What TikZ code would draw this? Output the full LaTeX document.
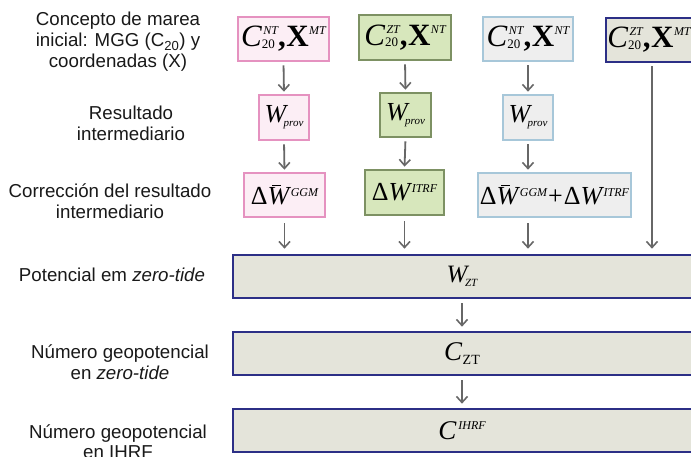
\documentclass[tikz,border=0pt]{standalone}
\usepackage{fontspec}
\setmainfont{Liberation Sans}
\newfontfamily\tnr{Liberation Serif}
\newfontfamily\tnrB{Liberation Serif Bold}
\usetikzlibrary{arrows.meta}
\definecolor{pinkB}{HTML}{E592C0}
\definecolor{pinkF}{HTML}{FCEEF5}
\definecolor{greenB}{HTML}{7D9163}
\definecolor{greenF}{HTML}{D7E7BC}
\definecolor{lblueB}{HTML}{A7C7D9}
\definecolor{lblueF}{HTML}{EEEEEE}
\definecolor{dblueB}{HTML}{2C2F86}
\definecolor{dblueF}{HTML}{E4E4DA}
\definecolor{arrowC}{HTML}{676767}
\newcommand{\fs}[1]{\fontsize{#1}{#1}\selectfont}
\newsavebox\bsup
\newsavebox\bsub
% #1 base, #2 sup, #3 sub, #4 raise sup, #5 lower sub, #6 sup kern
\newcommand{\SupSub}[6]{{#1}\sbox\bsup{\hspace*{#6}#2}\sbox\bsub{#3}%
  \rlap{\raisebox{#4}{\usebox\bsup}}\raisebox{-#5}{\usebox\bsub}%
  \ifdim\wd\bsup>\wd\bsub\hspace*{\dimexpr\wd\bsup-\wd\bsub\relax}\fi}
\newcommand{\toptxt}[2]{\tnr\fs{31}\SupSub{\itshape C}{\fs{12}\itshape #1}{\fs{13}\upshape 20}{12pt}{1.5pt}{1.5pt}%
  {\tnrB\upshape\mdseries ,}\hspace{0.5pt}{\tnrB\upshape\mdseries X}\hspace{0.5pt}\raisebox{12pt}{\fs{12}\itshape #2}}
\newcommand{\wprov}{\tnr\fs{26}\itshape W\hspace{-2.5pt}\raisebox{-4pt}{\fs{11}prov}}
\newcommand{\dW}{\upshape Δ\makebox[0pt][l]{\hspace{4.5pt}\rule[19pt]{9pt}{0.9pt}}\itshape W}
\newcommand{\dWggm}{\dW\hspace{1.5pt}\raisebox{8pt}{\fs{12}\itshape GGM}}
\newcommand{\dWitrf}{\upshape Δ\itshape W\hspace{1.5pt}\raisebox{8pt}{\fs{12}\itshape ITRF}}
\tikzset{
  box/.style={line width=2.7pt, inner sep=0pt, text=black},
  pinkbox/.style={box, draw=pinkB, fill=pinkF},
  greenbox/.style={box, draw=greenB, fill=greenF},
  lbluebox/.style={box, draw=lblueB, fill=lblueF},
  dbluebox/.style={box, draw=dblueB, fill=dblueF},
  bigbox/.style={dbluebox, minimum width=474pt, minimum height=43pt},
  lbl/.style={align=center, font=\fontsize{18.7}{21}\selectfont, text=black!90, inner sep=0pt},
  arr/.style={draw=arrowC, line width=1.8pt, -{Straight Barb[length=6pt,width=11pt,line width=1.6pt]}},
  fB/.style={font=\tnr\fontsize{26}{28}\selectfont},
}
\begin{document}
\begin{tikzpicture}[x=1pt,y=-1pt]
\clip (0,0) rectangle (691,457);
\fill[white] (0,0) rectangle (691,457);
% left labels
\node[lbl] (l1) at (118,42) {Concepto de marea\\inicial: MGG (C\textsubscript{20}) y\\coordenadas (X)};
\node[lbl] (l2) at (131,123) {Resultado\\intermediario};
\node[lbl] (l3) at (110,201) {Corrección del resultado\\intermediario};
\node[lbl] (l4) at (112,275) {Potencial em \textit{zero-tide}};
\node[lbl] (l5) at (120,362) {Número geopotencial\\en \textit{zero-tide}};
\node[lbl, font=\fontsize{18.7}{20}\selectfont] (l6) at (118,442) {Número geopotencial\\en IHRF};
% row 1
\node[pinkbox, minimum width=91pt, minimum height=44pt] (r1a) at (283.5,39) {\toptxt{NT}{MT}};
\node[greenbox, minimum width=92pt, minimum height=45pt] (r1b) at (405,37.5) {\toptxt{ZT}{NT}};
\node[lbluebox, minimum width=90pt, minimum height=44pt] (r1c) at (528,39) {\toptxt{NT}{NT}};
\node[dbluebox, minimum width=98pt, minimum height=44pt] (r1d) at (655,40) {\hspace*{-12pt}\toptxt{ZT}{MT}};
% row 2
\node[pinkbox, minimum width=50pt, minimum height=45pt] (r2a) at (284,117.5) {\wprov};
\node[greenbox, minimum width=51pt, minimum height=44pt] (r2b) at (405.5,115) {\wprov};
\node[lbluebox, minimum width=50pt, minimum height=45pt] (r2c) at (528,117.5) {\wprov};
% row 3
\node[pinkbox, fB, minimum width=81pt, minimum height=44pt] (r3a) at (284.5,195) {\dWggm};
\node[greenbox, fB, minimum width=79pt, minimum height=45pt] (r3b) at (404.5,192.5) {\dWitrf};
\node[lbluebox, fB, minimum width=153pt, minimum height=44pt] (r3c) at (554.5,195)
  {\dWggm\hspace{1pt}\upshape +\hspace{1pt}\dWitrf};
% big boxes
\node[bigbox, fB] (b1) at (470,276.5)
  {\hspace*{-16pt}\fs{25}\itshape W\hspace{-2.5pt}\raisebox{-4pt}{\fs{11}ZT}};
\node[bigbox, fB] (b2) at (470,353.5)
  {\hspace*{-16pt}\fs{27}\itshape C\hspace{0.5pt}\raisebox{-4pt}{\fs{14}\upshape ZT}};
\node[bigbox, fB] (b3) at (470,430.5)
  {\hspace*{-16pt}\fs{27}\itshape C\hspace{2pt}\raisebox{10pt}{\fs{12}IHRF}};
\coordinate (mid) at (462,0);
\coordinate (rc) at (652,0);
% arrows
\foreach \s/\t in {r1a/r2a, r1b/r2b, r1c/r2c}
  \draw[arr, shorten <=3pt, shorten >=2pt] (\s.south) -- (\t.north);
\foreach \s/\t in {r2a/r3a, r2b/r3b}
  \draw[arr, shorten <=3pt, shorten >=2pt] (\s.south) -- (\t.north);
\draw[arr, shorten <=3pt, shorten >=2pt] (r2c.south) -- (r2c.south |- r3c.north);
\foreach \s in {r3a, r3b}
  \draw[arr, shorten <=5pt, shorten >=5pt] (\s.south) -- (\s.south |- b1.north);
\draw[arr, shorten <=5pt, shorten >=5pt] (r2c.south |- r3c.south) -- (r2c.south |- b1.north);
\draw[arr, shorten <=3pt, shorten >=5pt] (rc |- r1d.south) -- (rc |- b1.north);
\draw[arr, shorten <=4pt, shorten >=4pt] (mid |- b1.south) -- (mid |- b2.north);
\draw[arr, shorten <=4pt, shorten >=4pt] (mid |- b2.south) -- (mid |- b3.north);
\end{tikzpicture}
\end{document}
